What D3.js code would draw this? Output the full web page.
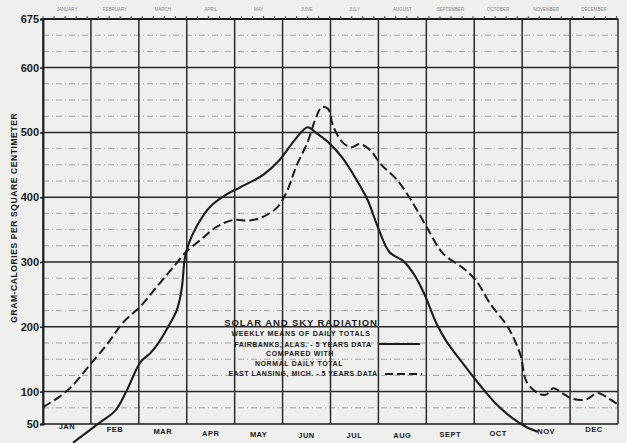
<!DOCTYPE html>
<html>
<head>
<meta charset="utf-8">
<script src="https://cdn.jsdelivr.net/npm/d3@7"></script>
<style>
  html, body { margin: 0; padding: 0; background: #efefed; }
  svg { display: block; }
  text { font-family: "Liberation Sans", "DejaVu Sans", sans-serif; fill: #1a1a1a; }
</style>
</head>
<body>
<svg id="chart" width="627" height="443"></svg>
<script>
// ---- data ----
const months = ["JAN","FEB","MAR","APR","MAY","JUN","JUL","AUG","SEPT","OCT","NOV","DEC"];
const monthNames = ["JANUARY","FEBRUARY","MARCH","APRIL","MAY","JUNE","JULY","AUGUST","SEPTEMBER","OCTOBER","NOVEMBER","DECEMBER"];
const yTicks = [50,100,200,300,400,500,600,675];

// Fairbanks, Alas. – weekly means of daily totals (day of year, gram-calories / cm²)
const fairbanksDay = [19,36,46,53,62,68,73,79,85,88,90,92,98,106,117,125,140,150,161,168,173,181,190,199,206,213,220,229,236,242,250,256,267,277,288,298,307,314];
const fairbanksVal = [21,52,71,101,146,159,174,198,226,258,305,325,357,385,405,415,435,457,492,508,500,485,461,427,396,351,315,301,279,251,204,178,142,111,80,59,45,38];

// East Lansing, Mich. – normal daily total
const lansingDay = [0,11,19,30,41,51,62,72,83,91,100,110,121,131,140,149,155,161,168,173,177,181,184,190,196,201,208,214,225,234,244,254,267,275,284,295,303,307,314,319,324,330,336,345,352,360,365];
const lansingVal = [76,93,110,142,174,207,232,261,293,316,334,354,365,364,370,385,410,449,485,521,539,536,511,485,477,482,472,452,426,394,352,313,290,271,235,200,157,115,98,95,105,97,89,88,98,88,80];

// ---- layout ----
const svg = d3.select("#chart");
const L = 43, R = 618, T = 19, B = 424;
const x = d3.scaleLinear().domain([0, 365]).range([L, R]);
const y = d3.scaleLinear().domain([50, 675]).range([B, T]);
const monthStart = d3.range(13).map(i => i * 365 / 12);

// minor horizontal grid every 25
const minor = d3.range(75, 675, 25).filter(v => v % 100 !== 0);
svg.append("g").selectAll("line").data(minor).join("line")
  .attr("x1", L).attr("x2", R)
  .attr("y1", d => y(d)).attr("y2", d => y(d))
  .attr("stroke", "#9a9a9a").attr("stroke-width", 0.9)
  .attr("stroke-dasharray", "6,3,1,3");

// major horizontal grid
const major = [100,200,300,400,500,600];
svg.append("g").selectAll("line").data(major).join("line")
  .attr("x1", L).attr("x2", R)
  .attr("y1", d => y(d)).attr("y2", d => y(d))
  .attr("stroke", "#2a2a2a").attr("stroke-width", 1.5);

// vertical month lines
svg.append("g").selectAll("line").data(monthStart).join("line")
  .attr("x1", d => x(d)).attr("x2", d => x(d))
  .attr("y1", T).attr("y2", B)
  .attr("stroke", "#2a2a2a").attr("stroke-width", 1.5);

// frame top & bottom
svg.append("line").attr("x1", L).attr("x2", R).attr("y1", T).attr("y2", T)
  .attr("stroke", "#1a1a1a").attr("stroke-width", 2);
svg.append("line").attr("x1", L).attr("x2", R).attr("y1", B).attr("y2", B)
  .attr("stroke", "#1a1a1a").attr("stroke-width", 1.6);

// weekly ticks along top
const weekTicks = d3.range(0, 366, 7);
svg.append("g").selectAll("line").data(weekTicks).join("line")
  .attr("x1", d => x(d)).attr("x2", d => x(d))
  .attr("y1", T - 3).attr("y2", T)
  .attr("stroke", "#444").attr("stroke-width", 1);
svg.append("g").selectAll("text").data(monthNames).join("text")
  .attr("x", (d, i) => x(monthStart[i] + 365 / 24))
  .attr("y", T - 8)
  .attr("text-anchor", "middle")
  .attr("font-size", 4.5)
  .style("fill", "#888")
  .text(d => d);

// y axis
const yAxis = d3.axisLeft(y).tickValues(yTicks).tickSize(3).tickPadding(1)
  .tickFormat(d3.format("d"));
const gy = svg.append("g").attr("transform", `translate(${L},0)`).call(yAxis);
gy.select(".domain").attr("stroke", "#1a1a1a").attr("stroke-width", 1.8);
gy.selectAll(".tick line").attr("stroke", "#1a1a1a").attr("stroke-width", 1.5);
gy.selectAll(".tick text")
  .attr("font-size", 11).attr("font-weight", "bold")
  .attr("font-family", "Liberation Sans Narrow, Liberation Sans, sans-serif")
  .style("fill", "#1a1a1a");

// y axis title
svg.append("text")
  .attr("transform", `translate(17,${(y(300) + y(600)) / 2 + 53}) rotate(-90)`)
  .attr("text-anchor", "middle")
  .attr("font-size", 8.5).attr("font-weight", "bold")
  .attr("letter-spacing", 0.6)
  .text("GRAM-CALORIES PER SQUARE CENTIMETER");

// month labels
svg.append("g").selectAll("text").data(months).join("text")
  .attr("x", (d, i) => x(monthStart[i] + 365 / 24))
  .attr("y", (d, i) => 438 - 0.25 * (i - 6) * (i - 6))
  .attr("text-anchor", "middle")
  .attr("font-size", 7.5).attr("font-weight", "bold")
  .attr("letter-spacing", 0.5)
  .text(d => d);

// curves
const line = d3.line().x(d => x(d[0])).y(d => y(d[1])).curve(d3.curveCatmullRom.alpha(0.5));
const fair = fairbanksDay.map((d, i) => [d, fairbanksVal[i]]);
const lans = lansingDay.map((d, i) => [d, lansingVal[i]]);

svg.append("path").datum(lans).attr("d", line)
  .attr("fill", "none").attr("stroke", "#1c1c1c").attr("stroke-width", 2)
  .attr("stroke-dasharray", "9,4");
svg.append("path").datum(fair).attr("d", line)
  .attr("fill", "none").attr("stroke", "#1c1c1c").attr("stroke-width", 2.1);

// legend
const lg = svg.append("g").attr("font-weight", "bold");
const legendLines = [
  {t: "SOLAR AND SKY RADIATION", x: 301, y: 326, s: 9.5, ls: 0.9},
  {t: "WEEKLY MEANS OF DAILY TOTALS", x: 301, y: 336, s: 7, ls: 0.7},
  {t: "FAIRBANKS, ALAS. - 5 YEARS DATA", x: 303, y: 347, s: 7, ls: 0.5},
  {t: "COMPARED WITH", x: 300, y: 356, s: 7, ls: 0.6},
  {t: "NORMAL DAILY TOTAL", x: 299, y: 366, s: 7, ls: 0.6},
  {t: "EAST LANSING, MICH. - 5 YEARS DATA", x: 303, y: 376, s: 7, ls: 0.5}
];
lg.selectAll("text").data(legendLines).join("text")
  .attr("x", d => d.x).attr("y", d => d.y)
  .attr("text-anchor", "middle")
  .attr("font-size", d => d.s)
  .attr("letter-spacing", d => d.ls)
  .text(d => d.t);
lg.append("line").attr("x1", 379).attr("x2", 420).attr("y1", 344).attr("y2", 344)
  .attr("stroke", "#1c1c1c").attr("stroke-width", 2);
lg.append("line").attr("x1", 385).attr("x2", 422).attr("y1", 374).attr("y2", 374)
  .attr("stroke", "#1c1c1c").attr("stroke-width", 2).attr("stroke-dasharray", "8,4");
</script>
</body>
</html>
